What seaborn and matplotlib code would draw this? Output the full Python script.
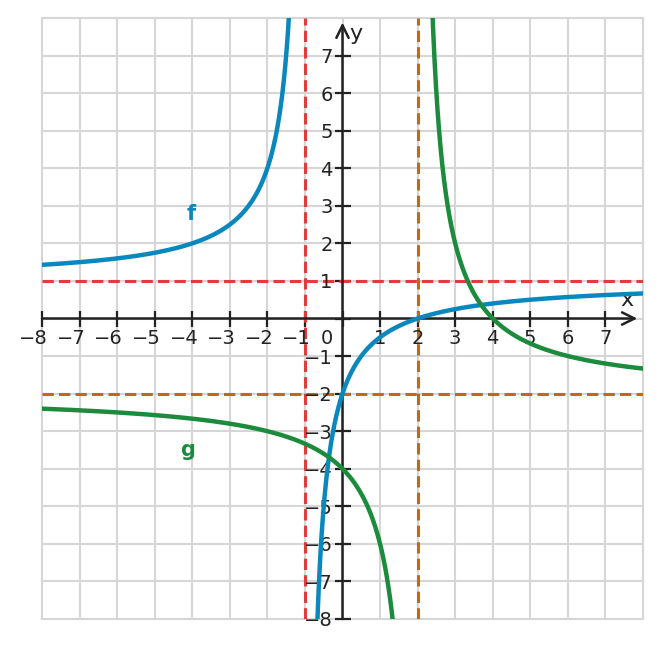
import numpy as np
import pandas as pd
import matplotlib
matplotlib.use("Agg")
import matplotlib.pyplot as plt
import seaborn as sns

# ---- data ----
# f: vertical asymptote, horizontal asymptote, and one point it passes through
f_vert = -1.0
f_horiz = 1.0
f_point = (2.0, 0.0)
# g: vertical asymptote, horizontal asymptote, and one point it passes through
g_vert = 2.0
g_horiz = -2.0
g_point = (4.0, 0.0)

x_ticks = list(range(-8, 8))
y_ticks = list(range(-8, 8))
grid_vals = list(range(-8, 9))

C_F = "#0a87bd"
C_G = "#1c8b3d"
C_RED = "#e03c3c"
C_BROWN = "#bf6a14"
C_AX = "#222222"
C_GRID = "#d6d6d6"

sns.set_style("white")
plt.rcParams["font.family"] = ["DejaVu Sans"]

fig = plt.figure(figsize=(6.61, 6.48), dpi=100)
ax = fig.add_axes([42 / 661, 29 / 648, 601 / 661, 601 / 648])
ax.set_xlim(-8, 8)
ax.set_ylim(-8, 8)

for v in grid_vals:
    ax.axvline(v, color=C_GRID, lw=1.5, zorder=0, clip_on=False)
    ax.axhline(v, color=C_GRID, lw=1.5, zorder=0, clip_on=False)

# asymptotes
dash = (3.7, 1.7)
ax.axhline(f_horiz, color=C_RED, lw=2.2, dashes=dash, zorder=1)
ax.axvline(f_vert, color=C_RED, lw=2.2, dashes=dash, zorder=1)
ax.axhline(g_horiz, color=C_BROWN, lw=2.2, dashes=dash, zorder=1)
ax.axvline(g_vert, color=C_BROWN, lw=2.2, dashes=dash, zorder=1)


def branches(vert, horiz, point):
    k = (point[1] - horiz) * (point[0] - vert)
    out = []
    for lo, hi in [(-8.0, vert - 1e-3), (vert + 1e-3, 8.0)]:
        xs = np.linspace(lo, hi, 1500)
        ys = horiz + k / (xs - vert)
        m = np.abs(ys) < 40
        out.append(pd.DataFrame({"x": xs[m], "y": ys[m]}))
    return out


for df in branches(f_vert, f_horiz, f_point):
    sns.lineplot(data=df, x="x", y="y", color=C_F, lw=3.2, ax=ax,
                 sort=False, estimator=None, zorder=5)
for df in branches(g_vert, g_horiz, g_point):
    sns.lineplot(data=df, x="x", y="y", color=C_G, lw=3.2, ax=ax,
                 sort=False, estimator=None, zorder=5)

# axes through origin
for s in ["top", "right"]:
    ax.spines[s].set_visible(False)
ax.spines["left"].set_position(("data", 0))
ax.spines["bottom"].set_position(("data", 0))
ax.spines["left"].set_color("none")
ax.spines["bottom"].set_color("none")
ax.set_xticks(x_ticks)
ax.set_yticks(y_ticks)
ax.tick_params(direction="inout", length=12, width=1.6, color=C_AX,
               bottom=True, left=True, top=False, right=False,
               labelleft=False, labelbottom=False)
ax.set_xlabel("")
ax.set_ylabel("")

arrow = dict(arrowstyle="->,head_length=0.45,head_width=0.22", lw=1.8,
             color=C_AX, shrinkA=0, shrinkB=0, mutation_scale=20)
ax.annotate("", xy=(7.85, 0), xytext=(-8, 0), arrowprops=arrow, zorder=3,
            annotation_clip=False)
ax.annotate("", xy=(0, 7.88), xytext=(0, -8), arrowprops=arrow, zorder=3,
            annotation_clip=False)

fs = 14
for v in x_ticks:
    if v == 0:
        continue
    lab = str(v).replace("-", "\u2212")
    ax.annotate(lab, xy=(v, 0), xytext=(6, -10), textcoords="offset pixels",
                ha="right", va="top", fontsize=fs, color=C_AX, zorder=4)
for v in y_ticks:
    if v == 0:
        continue
    lab = str(v).replace("-", "\u2212")
    ax.annotate(lab, xy=(0, v), xytext=(-10, 0), textcoords="offset pixels",
                ha="right", va="center_baseline", fontsize=fs, color=C_AX,
                zorder=4)
ax.annotate("0", xy=(0, 0), xytext=(-10, -10), textcoords="offset pixels",
            ha="right", va="top", fontsize=fs, color=C_AX, zorder=4)

ax.text(7.58, 0.5, "x", fontsize=16, color=C_AX, ha="center", va="center", zorder=4)
ax.text(0.37, 7.58, "y", fontsize=16, color=C_AX, ha="center", va="center", zorder=4)
ax.text(-4.02, 2.77, "f", fontsize=15, fontweight="bold", color=C_F,
        ha="center", va="center", zorder=4)
ax.text(-4.12, -3.5, "g", fontsize=15, fontweight="bold", color=C_G,
        ha="center", va="center", zorder=4)

fig.savefig("out.png", dpi=100)
